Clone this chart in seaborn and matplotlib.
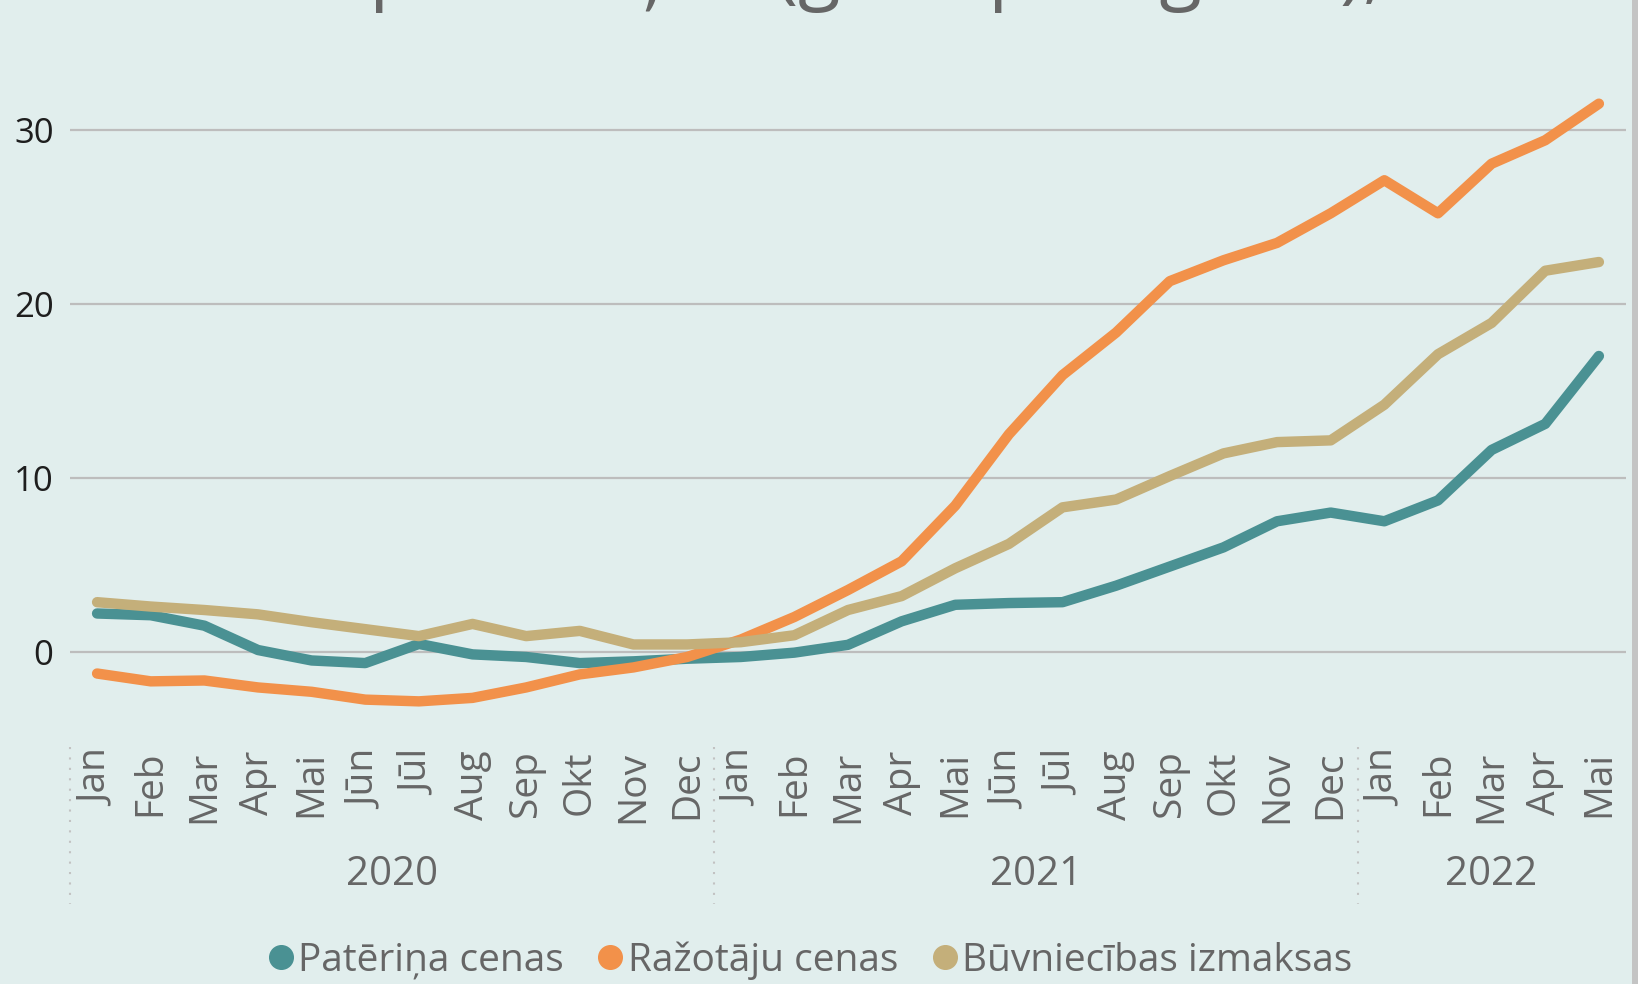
import matplotlib.pyplot as plt
import seaborn as sns
import numpy as np
import pandas as pd
from matplotlib.lines import Line2D
from matplotlib.patches import Rectangle
import matplotlib.transforms as mtransforms

# Data (annual change, %)
months = ['Jan', 'Feb', 'Mar', 'Apr', 'Mai', 'Jūn', 'Jūl', 'Aug', 'Sep', 'Okt', 'Nov', 'Dec'] * 2 \
    + ['Jan', 'Feb', 'Mar', 'Apr', 'Mai']
years = ['2020', '2021', '2022']
months_per_year = [12, 12, 5]

pateriņa = [2.2, 2.1, 1.5, 0.1, -0.5, -0.65, 0.45, -0.15, -0.3, -0.65, -0.55, -0.4,
            -0.3, -0.05, 0.4, 1.75, 2.7, 2.8, 2.85, 3.8, 4.9, 6.0, 7.5, 8.0,
            7.5, 8.7, 11.6, 13.1, 17.0]
razotaju = [-1.25, -1.7, -1.65, -2.05, -2.3, -2.75, -2.85, -2.65, -2.05, -1.3, -0.9, -0.3,
            0.7, 2.0, 3.55, 5.2, 8.4, 12.5, 15.9, 18.35, 21.3, 22.5, 23.5, 25.2,
            27.1, 25.2, 28.05, 29.4, 31.5]
buvniecibas = [2.85, 2.6, 2.4, 2.15, 1.7, 1.3, 0.9, 1.6, 0.9, 1.2, 0.42, 0.42,
               0.55, 0.95, 2.4, 3.2, 4.8, 6.2, 8.3, 8.75, 10.1, 11.4, 12.05, 12.15,
               14.2, 17.1, 18.9, 21.9, 22.4]

series_names = ['Patēriņa cenas', 'Ražotāju cenas', 'Būvniecības izmaksas']
colors = ['#4a9193', '#f2914a', '#c4af7a']
title = 'Cenu pārmaiņas (gads pret gadu), %'

bg = '#e1eeed'
gray_txt = '#666666'

df = pd.concat([
    pd.DataFrame({'pos': np.arange(len(v)), 'value': v, 'series': name})
    for name, v in zip(series_names, [pateriņa, razotaju, buvniecibas])
])

sns.set_style('white', rc={'axes.facecolor': bg, 'figure.facecolor': bg})
plt.rcParams['font.family'] = ['Open Sans', 'DejaVu Sans']

fig = plt.figure(figsize=(16.38, 9.84), dpi=100)
ax = fig.add_axes([0.0429, 0.2669, 0.9496, 0.7073])

sns.lineplot(data=df, x='pos', y='value', hue='series', hue_order=series_names,
             palette=colors, linewidth=7.5, legend=False, sort=False, ax=ax)
for line in ax.lines:
    line.set_solid_capstyle('round')
    line.set_solid_joinstyle('round')

n = len(months)
ax.set_xlim(-0.5, n - 0.5)
ax.set_ylim(-4, 36)
ax.set_yticks([0, 10, 20, 30])
ax.yaxis.grid(True, color='#bdbdbd', linewidth=1.6)
ax.set_axisbelow(True)
for s in ax.spines.values():
    s.set_visible(False)

ax.set_xticks(np.arange(n))
ax.set_xticklabels(months, rotation=90, fontsize=28, color=gray_txt)
ax.tick_params(axis='x', length=0, pad=21)
ax.tick_params(axis='y', length=0, pad=12, labelsize=25, labelcolor='#1e1e1e')
ax.set_xlabel('')
ax.set_ylabel('')

# year groups under the month labels
trans = mtransforms.blended_transform_factory(ax.transData, ax.transAxes)
start = 0
bounds = [-0.5]
for yr, cnt in zip(years, months_per_year):
    ax.text(start + (cnt - 1) / 2, -0.22, yr, transform=trans, ha='center', va='center',
            fontsize=29, color=gray_txt)
    start += cnt
    bounds.append(start - 0.5)
for b in bounds[:-1]:
    ax.plot([b, b], [-0.037, -0.262], transform=trans, clip_on=False,
            color='#c2c2c2', linewidth=1.5, linestyle=(0, (1, 4)))

# legend
handles = [Line2D([], [], marker='o', linestyle='none', markersize=17,
                  markerfacecolor=c, markeredgecolor=c) for c in colors]
fig.legend(handles, series_names, loc='center', bbox_to_anchor=(0.495, 0.024), ncol=3,
           frameon=False, fontsize=28, labelcolor=gray_txt, handlelength=0.6,
           handletextpad=0.15, columnspacing=0.9)

# title, mostly cut off by the top edge (as in the reference)
fig.text(0.098, 1.006, title, fontsize=56, color=gray_txt, ha='left', va='baseline')

# right border strip
fig.add_artist(Rectangle((1632 / 1638, 0), 6 / 1638, 1, transform=fig.transFigure,
                         color='#c4c4c4', linewidth=0))

fig.savefig('out.png', dpi=100, facecolor=bg)
